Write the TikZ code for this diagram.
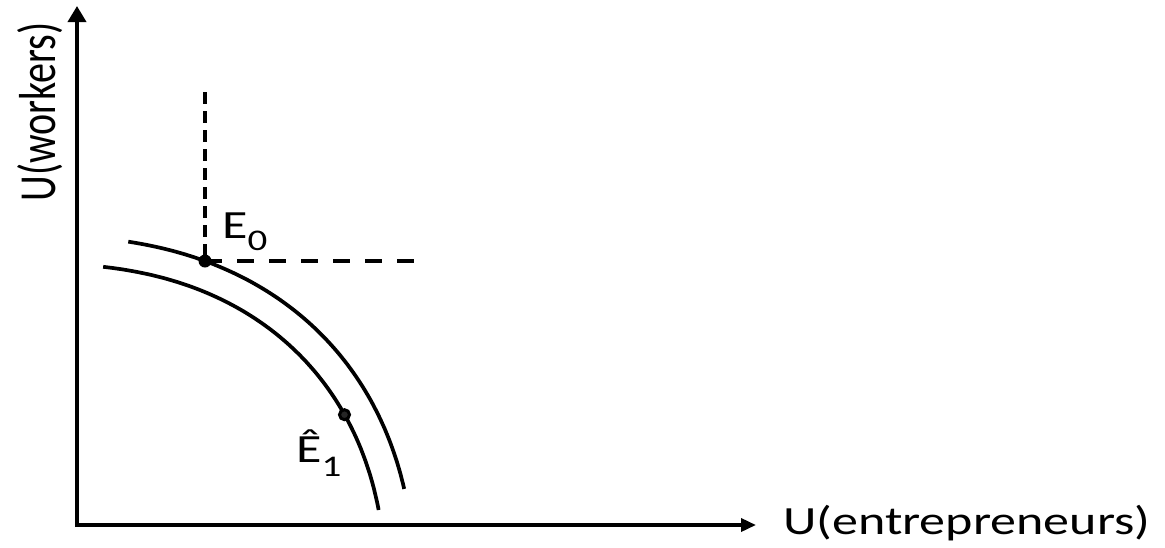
\documentclass[tikz,border=0pt]{standalone}
\usepackage{fontspec}
\setmainfont{Carlito}
\usetikzlibrary{arrows.meta}
\begin{document}
\begin{tikzpicture}[x=1pt,y=-1pt,
  axis/.style={line width=3.5pt},
  frontier/.style={line width=3.7pt},
  vguide/.style={line width=3.5pt, dash pattern=on 12pt off 7pt},
  hguide/.style={line width=3.5pt, dash pattern=on 17pt off 15pt},
  lbl/.style={inner sep=0pt, font=\fontsize{40}{40}\selectfont},
]
\useasboundingbox (0,0) rectangle (1165,547);
% axes
\coordinate (O) at (77,527);
\coordinate (ytop) at (77,6);
\coordinate (xo) at (75,525);
\coordinate (xend) at (756,525);
\draw[axis,-{Triangle[length=16pt,width=18pt]}] (O) -- (ytop);
\draw[axis,-{Triangle[length=15pt,width=13pt]}] (xo) -- (xend);
% axis labels
\node[lbl, anchor=base west] (xlab) at (783,534) {\scalebox{1.3}[1]{U(entrepreneurs)}};
\node[lbl, anchor=base, rotate=90] (ylab) at (55,112) {\scalebox{1}[1.3]{U(workers)}};
% frontiers (superellipse arcs about (40,600))
\draw[frontier] plot[domain=14.8:79.1, samples=90, smooth]
  ({40+375*(cos(\x))^0.8696}, {600-364*(sin(\x))^0.8696});
\draw[frontier] plot[domain=12.7:82.0, samples=90, smooth]
  ({40+346*(cos(\x))^0.8696}, {600-336*(sin(\x))^0.8696});
% E0 and guides
\coordinate (E0) at (205,261);
\coordinate (vtop) at (205,92);
\coordinate (hend) at (415,261);
\draw[vguide] (vtop) -- (E0);
\draw[hguide] (E0) -- (hend);
\fill (E0) circle (6.5pt);
\node[lbl, anchor=base west] (E0lab) at (222,238) {\scalebox{1.3}[1]{E\raisebox{-12pt}{\fontsize{30}{30}\selectfont 0}}};
% E1
\coordinate (E1) at (344.5,414.7);
\draw[line width=3pt, fill=black!85] (E1) circle (5pt);
\node[lbl, anchor=base west] (E1lab) at (296,462) {\scalebox{1.3}[1]{Ê\raisebox{-14pt}{\fontsize{30}{30}\selectfont 1}}};
\end{tikzpicture}
\end{document}
